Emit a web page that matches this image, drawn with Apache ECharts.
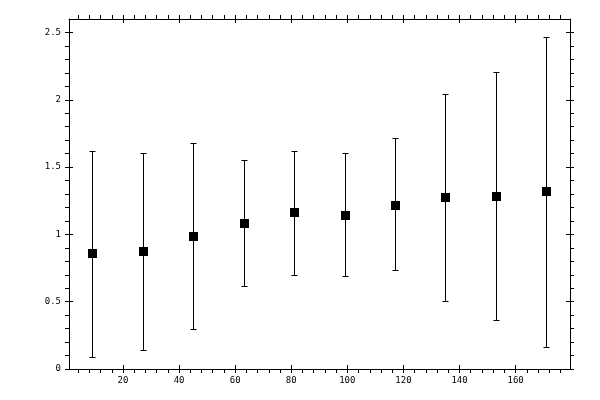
<!DOCTYPE html>
<html><head><meta charset="utf-8">
<script src="https://cdn.jsdelivr.net/npm/echarts@6/dist/echarts.min.js"></script>
<style>html,body{margin:0;padding:0;background:#fff}#c{width:600px;height:400px}</style>
</head><body><div id="c"></div>
<script>
const xValues = [9, 27, 45, 63, 81, 99, 117, 135, 153, 171];
const yMean = [0.86, 0.878, 0.985, 1.082, 1.165, 1.145, 1.22, 1.275, 1.283, 1.32];
const yLow = [0.09, 0.143, 0.30, 0.615, 0.70, 0.69, 0.735, 0.505, 0.365, 0.165];
const yHigh = [1.622, 1.603, 1.677, 1.551, 1.62, 1.603, 1.713, 2.045, 2.203, 2.47];
const xMajorTicks = [20, 40, 60, 80, 100, 120, 140, 160];
const xMinorTicks = [4, 8, 12, 16, 20, 24, 28, 32, 36, 40, 44, 48, 52, 56, 60, 64, 68, 72, 76, 80, 84, 88, 92, 96, 100, 104, 108, 112, 116, 120, 124, 128, 132, 136, 140, 144, 148, 152, 156, 160, 164, 168, 172, 176];
const yMajorTicks = [0, 0.5, 1, 1.5, 2, 2.5];
const yMinorTicks = [0, 0.1, 0.2, 0.3, 0.4, 0.5, 0.6, 0.7, 0.8, 0.9, 1, 1.1, 1.2, 1.3, 1.4, 1.5, 1.6, 1.7, 1.8, 1.9, 2, 2.1, 2.2, 2.3, 2.4, 2.5];

const X_MIN = 0.75, X_MAX = 179.4, Y_MIN = 0, Y_MAX = 2.6;
const font = {fontFamily: 'DejaVu Sans Mono', fontSize: 9, color: '#000'};
const line = {show: true, onZero: false, lineStyle: {color: '#000', width: 1}};
const noLine = {show: false, onZero: false};

function xAxis(pos, showLine, ticks, inside, labels) {
  return {
    type: 'value', position: pos, min: X_MIN, max: X_MAX, gridIndex: 0,
    axisLine: showLine ? line : noLine,
    splitLine: {show: false},
    axisTick: {show: true, inside: inside, length: 4, customValues: ticks, lineStyle: {color: '#000', width: 1}},
    axisLabel: labels ? Object.assign({show: true, margin: 7, customValues: labels}, font) : {show: false}
  };
}
function yAxis(pos, showLine, ticks, inside, labels) {
  return {
    type: 'value', position: pos, min: Y_MIN, max: Y_MAX, gridIndex: 0,
    axisLine: showLine ? line : noLine,
    splitLine: {show: false},
    axisTick: {show: true, inside: inside, length: 4, customValues: ticks, lineStyle: {color: '#000', width: 1}},
    axisLabel: labels ? Object.assign({show: true, margin: 8, customValues: labels}, font) : {show: false}
  };
}

const snap = v => Math.round(v) + 0.5;

const chart = echarts.init(document.getElementById('c'));
chart.setOption({
  animation: false,
  backgroundColor: '#fff',
  grid: {left: 69, top: 19, right: 30, bottom: 31, containLabel: false},
  xAxis: [
    xAxis('bottom', true, xMinorTicks, false, xMajorTicks),
    xAxis('bottom', false, xMajorTicks, true, null),
    xAxis('top', true, xMinorTicks, false, null),
    xAxis('top', false, xMajorTicks, true, null)
  ],
  yAxis: [
    yAxis('left', true, yMinorTicks, false, yMajorTicks),
    yAxis('left', false, yMajorTicks, true, null),
    yAxis('right', true, yMinorTicks, false, null),
    yAxis('right', false, yMajorTicks, true, null)
  ],
  series: [
    {
      type: 'custom', xAxisIndex: 0, yAxisIndex: 0,
      data: xValues.map((x, i) => [x, yLow[i], yHigh[i]]),
      encode: {x: 0, y: [1, 2]},
      renderItem: function (params, api) {
        const x = api.value(0);
        const lo = api.coord([x, api.value(1)]);
        const hi = api.coord([x, api.value(2)]);
        const px = snap(lo[0]), ly = snap(lo[1]), hy = snap(hi[1]);
        const hw = 3;
        const st = {stroke: '#000', lineWidth: 1};
        return {type: 'group', children: [
          {type: 'line', shape: {x1: px, y1: ly, x2: px, y2: hy}, style: st},
          {type: 'line', shape: {x1: px - hw, y1: ly, x2: px + hw, y2: ly}, style: st},
          {type: 'line', shape: {x1: px - hw, y1: hy, x2: px + hw, y2: hy}, style: st}
        ]};
      },
      z: 2
    },
    {
      type: 'custom', xAxisIndex: 0, yAxisIndex: 0,
      data: xValues.map((x, i) => [x, yMean[i]]),
      encode: {x: 0, y: 1},
      renderItem: function (params, api) {
        const p = api.coord([api.value(0), api.value(1)]);
        const cx = Math.round(p[0]), cy = Math.round(p[1]);
        return {type: 'rect', shape: {x: cx - 4, y: cy - 4, width: 9, height: 9}, style: {fill: '#000'}};
      },
      z: 3
    }
  ]
});
</script></body></html>
